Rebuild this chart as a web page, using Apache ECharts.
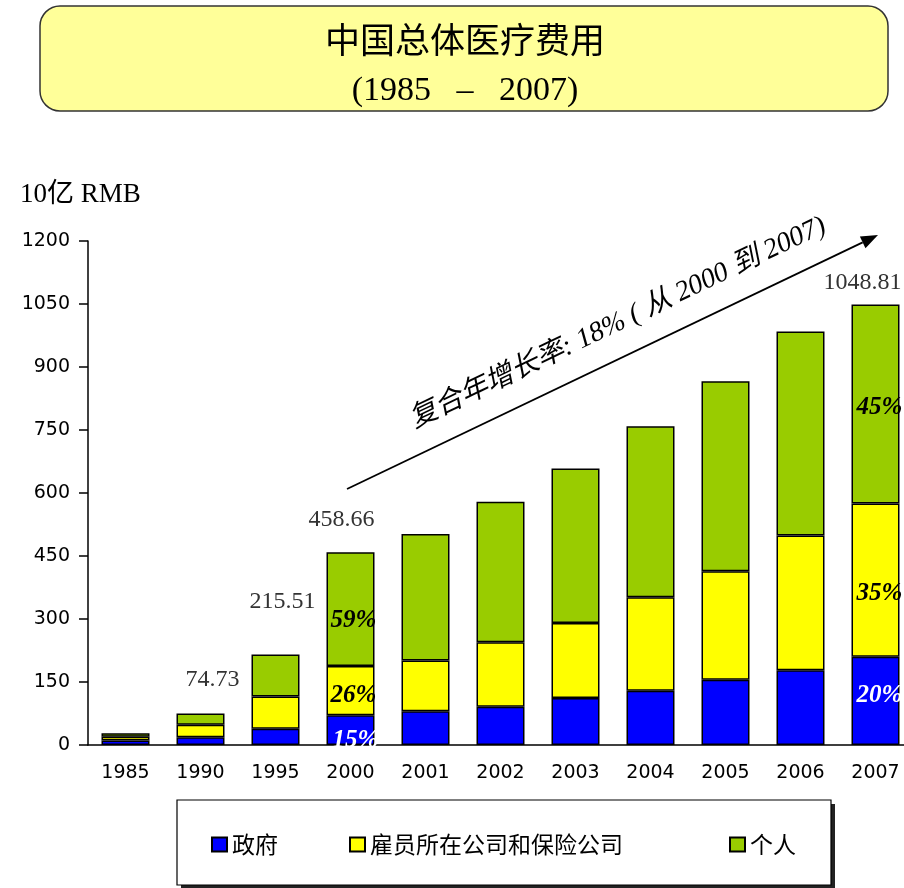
<!DOCTYPE html>
<html><head><meta charset="utf-8">
<script src="https://cdn.jsdelivr.net/npm/echarts@6/dist/echarts.min.js"></script>
<style>html,body{margin:0;padding:0;background:#fff;overflow:hidden}#c{width:930px;height:888px}</style>
</head><body><div id="c"></div>
<script>
// ---- data ----
const years = ['1985','1990','1995','2000','2001','2002','2003','2004','2005','2006','2007'];
const government  = [10.7, 18.73, 38.73, 70.95, 80.06, 90.88, 111.68, 129.36, 155.25, 177.89, 210.0];
const employers   = [9.2, 29.3, 76.78, 117.19, 121.1, 153.93, 178.85, 222.54, 258.6, 321.09, 365.0];
const individuals = [7.9, 26.7, 100.0, 270.52, 301.43, 334.19, 367.88, 407.13, 452.14, 485.35, 473.81];
const seriesNames = ['政府', '雇员所在公司和保险公司', '个人'];
const yMin = 0, yMax = 1200, yStep = 150;
const totalLabelYears = ['1990', '1995', '2000', '2007'];
const shareLabelYears = ['2000', '2007'];
const titleText = '中国总体医疗费用';
const subtitleText = '(1985   –   2007)';
const unitText = '10亿 RMB';
const growthText = '复合年增长率: 18% ( 从 2000 到 2007)';

// ---- presentation (positions / styles, not data) ----
const colors = ['#0000FF', '#FFFF00', '#99CC00'];
const totalOffsets = { '1990': [12, -17], '1995': [7, -36], '2000': [-9, -16], '2007': [-13, -5] };
const shareOffsets = {
  '2000': [[5, 10], [3, 5], [3, 11]],
  '2007': [[4, -5], [4, 13], [4, 4]]
};
const shareColors = ['#FFFFFF', '#000000', '#000000'];

const totals = years.map((_, i) => government[i] + employers[i] + individuals[i]);
const seriesData = [government, employers, individuals];

function buildData(k) {
  return seriesData[k].map((v, i) => {
    const y = years[i];
    const item = { value: v };
    if (shareLabelYears.includes(y)) {
      item.label = {
        show: true, position: 'inside', offset: shareOffsets[y][k],
        formatter: Math.round(v / totals[i] * 100) + '%',
        color: shareColors[k], fontFamily: 'Liberation Serif', fontStyle: 'italic',
        fontWeight: 'bold', fontSize: 25
      };
    }
    return item;
  });
}

const series = seriesNames.map((name, k) => ({
  name, type: 'bar', stack: 'total', barWidth: 48,
  itemStyle: { color: colors[k], borderColor: '#000', borderWidth: 1.5 },
  data: buildData(k)
}));

// totals on top via an invisible zero-height bar on the stack
series.push({
  name: 'total', type: 'bar', stack: 'total', barWidth: 48, silent: true,
  itemStyle: { color: 'transparent', borderWidth: 0 },
  data: years.map((y, i) => ({
    value: 0,
    label: totalLabelYears.includes(y) ? {
      show: true, position: 'top', offset: totalOffsets[y], distance: 5,
      formatter: totals[i].toFixed(2), color: '#333',
      fontFamily: 'Liberation Serif', fontSize: 24
    } : { show: false }
  }))
});

// arrow geometry (annotation)
const ax1 = 347, ay1 = 489, ax2 = 878, ay2 = 235;
const dl = Math.hypot(ax2 - ax1, ay2 - ay1);
const ux = (ax2 - ax1) / dl, uy = (ay2 - ay1) / dl;
const hl = 17, hw = 6.5;
const bx = ax2 - ux * hl, by = ay2 - uy * hl;

const chart = echarts.init(document.getElementById('c'));
chart.setOption({
  animation: false,
  backgroundColor: '#fff',
  title: {
    text: titleText, subtext: subtitleText, left: 'center', top: 20, padding: 0, itemGap: 12,
    textStyle: { fontFamily: 'Noto Sans CJK SC', fontSize: 35, fontWeight: 'normal', color: '#000', lineHeight: 40 },
    subtextStyle: { fontFamily: 'Liberation Serif', fontSize: 34, color: '#000', lineHeight: 38 }
  },
  legend: seriesNames.map((n, k) => ({
    data: [n], left: [211, 349, 729][k], top: 833, padding: 0,
    itemWidth: 15, itemHeight: 14, icon: 'rect',
    textStyle: { fontFamily: 'Noto Sans CJK SC', fontSize: 23, color: '#000' }
  })),
  grid: { left: 88, top: 241, width: 825, height: 504, containLabel: false },
  xAxis: {
    type: 'category', data: years,
    axisLine: { lineStyle: { color: '#000', width: 1.5 } },
    axisTick: { show: false },
    axisLabel: { color: '#000', fontFamily: 'DejaVu Sans', fontSize: 19, margin: 19 }
  },
  yAxis: {
    type: 'value', min: yMin, max: yMax, interval: yStep,
    splitLine: { show: false },
    axisLine: { show: true, lineStyle: { color: '#000', width: 1.5 } },
    axisTick: { show: true, length: 9, lineStyle: { color: '#000', width: 1.5 } },
    axisLabel: { color: '#000', fontFamily: 'DejaVu Sans', fontSize: 19, margin: 18, formatter: v => String(v) }
  },
  series,
  graphic: [
    { type: 'rect', z: -10, shape: { x: 40, y: 6, width: 848, height: 105, r: 20 },
      style: { fill: '#FFFF99', stroke: '#333', lineWidth: 1.5 } },
    { type: 'rect', z: -10, shape: { x: 181, y: 804, width: 654, height: 85 },
      style: { fill: '#222' } },
    { type: 'rect', z: -9, shape: { x: 177, y: 800, width: 654, height: 85 },
      style: { fill: '#fff', stroke: '#000', lineWidth: 1.2 } },
    { type: 'text', x: 20, y: 195, style: { text: unitText, fontFamily: 'Liberation Serif, Noto Sans CJK SC', fontSize: 27, fill: '#000', verticalAlign: 'middle', align: 'left' } },
    { type: 'line', shape: { x1: ax1, y1: ay1, x2: bx, y2: by }, style: { stroke: '#000', lineWidth: 1.8 } },
    { type: 'polygon', shape: { points: [[ax2, ay2], [bx - uy * hw, by + ux * hw], [bx + uy * hw, by - ux * hw]] }, style: { fill: '#000' } },
    { type: 'text', x: 618, y: 323, rotation: 25.5 * Math.PI / 180,
      style: { text: growthText, fontFamily: 'Liberation Serif, Noto Sans CJK SC', fontStyle: 'italic', fontSize: 28, fill: '#000', align: 'center', verticalAlign: 'middle' } }
  ]
});
</script>
</body></html>
